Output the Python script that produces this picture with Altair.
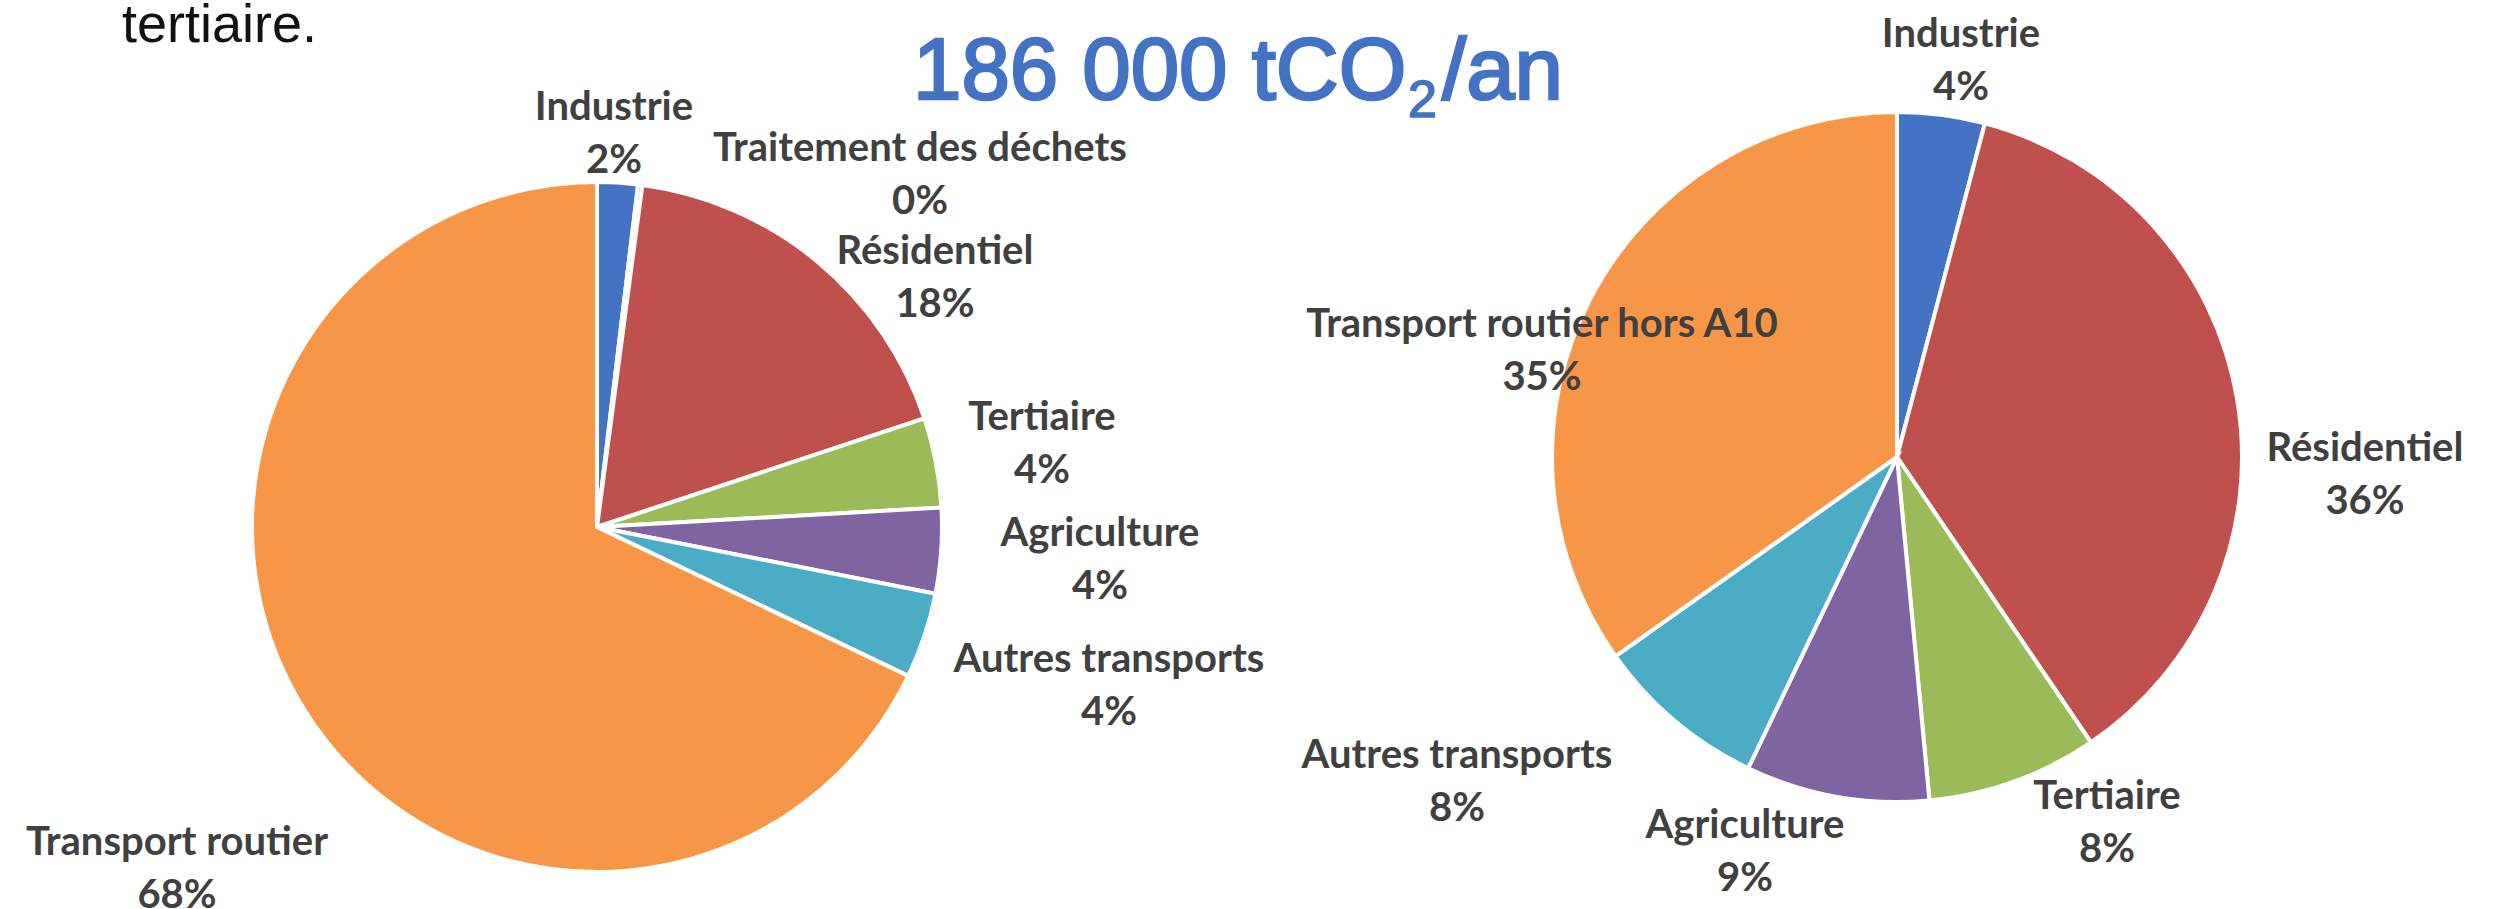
import altair as alt
import pandas as pd

# ---------------- data ----------------
left_categories = ["Industrie", "Traitement des déchets", "Résidentiel", "Tertiaire",
                   "Agriculture", "Autres transports", "Transport routier"]
left_values = [1.9, 0.2, 17.8, 4.2, 4.0, 4.0, 67.9]

right_categories = ["Industrie", "Résidentiel", "Tertiaire", "Agriculture",
                    "Autres transports", "Transport routier hors A10"]
right_values = [4.1, 36.4, 8.0, 8.6, 8.1, 34.8]

title_main = "186 000 tCO"
title_sub = "2"
title_end = "/an"
intro_text = "tertiaire."

# ---------------- styles / layout ----------------
color_map = {
    "Industrie": "#4472C4",
    "Traitement des déchets": "#C0504D",
    "Résidentiel": "#C0504D",
    "Tertiaire": "#9BBB59",
    "Agriculture": "#8064A2",
    "Autres transports": "#4BACC6",
    "Transport routier": "#F79646",
    "Transport routier hors A10": "#F79646",
}
W, H = 2517, 909
LEFT_CENTER = (597, 527)
RIGHT_CENTER = (1897, 457)
RADIUS = 345
LABEL_FONT = "Lato"
LABEL_SIZE = 40
LABEL_COLOR = "#404040"
LINE_H = 53
TITLE_COLOR = "#4472C4"
# label anchors (center x, first-line baseline y)
left_label_pos = [(614, 120), (920, 161), (935, 264), (1042, 430), (1100, 546), (1109, 672), (177, 855)]
right_label_pos = [(1961, 47), (2365, 461), (2107, 809), (1745, 838), (1457, 768), (1542, 337)]

domain = list(color_map.keys())
rng = list(color_map.values())


def make_df(cats, vals, pos):
    return pd.DataFrame({
        "cat": cats,
        "value": vals,
        "idx": list(range(len(cats))),
        "label": [f"{c}\n{round(v)}%" for c, v in zip(cats, vals)],
        "lx": [p[0] for p in pos],
        "ly": [p[1] for p in pos],
    })


def pie(df, center):
    arc = alt.Chart(df).mark_arc(radius=RADIUS, stroke="white", strokeWidth=4).encode(
        theta=alt.Theta("value:Q", stack=True),
        color=alt.Color("cat:N", scale=alt.Scale(domain=domain, range=rng), legend=None),
        order=alt.Order("idx:Q", sort="ascending"),
        x=alt.value(center[0]),
        y=alt.value(center[1]),
    )
    txt = alt.Chart(df).mark_text(
        font=LABEL_FONT, fontSize=LABEL_SIZE, fontWeight="bold", color=LABEL_COLOR,
        align="center", baseline="alphabetic", lineBreak="\n", lineHeight=LINE_H,
    ).encode(
        x=alt.X("lx:Q", scale=None),
        y=alt.Y("ly:Q", scale=None),
        text=alt.Text("label:N"),
    )
    return arc, txt


left_df = make_df(left_categories, left_values, left_label_pos)
right_df = make_df(right_categories, right_values, right_label_pos)
la, lt = pie(left_df, LEFT_CENTER)
ra, rt = pie(right_df, RIGHT_CENTER)

one = alt.Data(values=[{}])


def title_text(txt, x, y, size, sw):
    return alt.Chart(one).mark_text(
        font="Liberation Sans", fontSize=size, color=TITLE_COLOR,
        stroke=TITLE_COLOR, strokeWidth=sw,
        align="left", baseline="alphabetic",
    ).encode(x=alt.value(x), y=alt.value(y), text=alt.value(txt))


t1 = title_text(title_main, 913, 99, 87, 2.6)
t2 = title_text(title_sub, 1408, 117, 52, 1.6)
t3 = title_text(title_end, 1442, 99, 87, 2.6)
t4 = alt.Chart(one).mark_text(font="Liberation Sans", fontSize=54, color="#111111",
                              align="left", baseline="alphabetic").encode(
    x=alt.value(122), y=alt.value(42), text=alt.value(intro_text))

chart = alt.layer(la, ra, lt, rt, t1, t2, t3, t4).properties(
    width=W, height=H, padding=0,
    autosize=alt.AutoSizeParams(type="none"),
    background="white",
).configure_view(strokeWidth=0)

chart.save("out.html", embed_options={"renderer": "svg", "actions": False})
